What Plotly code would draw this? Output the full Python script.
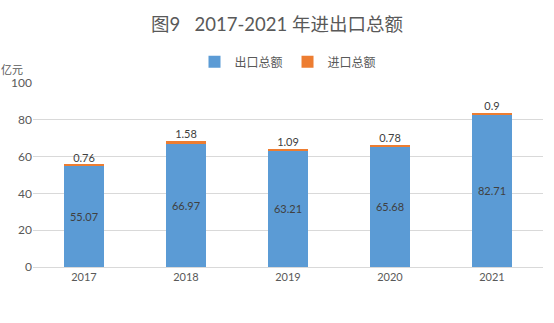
import plotly.graph_objects as go

years = ["2017", "2018", "2019", "2020", "2021"]
exports = [55.07, 66.97, 63.21, 65.68, 82.71]
imports = [0.76, 1.58, 1.09, 0.78, 0.9]

FONT = "Lato, 'Noto Sans CJK SC', sans-serif"
GREY = "#595959"

fig = go.Figure()
fig.add_trace(go.Bar(
    x=years, y=exports, name="出口总额", marker_color="#5B9BD5",
    marker_line_width=0,
    text=[f"{v:g}" for v in exports], textposition="inside",
    insidetextanchor="middle", textfont=dict(color="#404040", size=11, family=FONT),
    width=0.4,
))
fig.add_trace(go.Bar(
    x=years, y=imports, name="进口总额", marker_color="#ED7D31", width=0.4,
    marker_line_width=0,
))
fig.add_trace(go.Scatter(
    x=years, y=[e + i for e, i in zip(exports, imports)],
    mode="text", text=[f"{v:g}" for v in imports], textposition="top center",
    textfont=dict(color="#404040", size=11, family=FONT), showlegend=False,
    hoverinfo="skip",
))

fig.update_layout(
    width=554, height=323, barmode="stack",
    paper_bgcolor="white", plot_bgcolor="white",
    margin=dict(l=33, r=11, t=83, b=56),
    font=dict(family=FONT, color=GREY, size=11),
    title=dict(text="图9   2017-2021 年进出口总额", x=0.5, xanchor="center",
               y=0.925, yanchor="middle", font=dict(size=18.5, color=GREY, family=FONT)),
    legend=dict(orientation="h", x=0.5, xanchor="center", y=1.115, yanchor="middle",
                font=dict(size=12, color=GREY, family=FONT), itemwidth=30,
                traceorder="normal"),
    xaxis=dict(showgrid=False, showline=True, linecolor="#D9D9D9", ticks="",
               tickfont=dict(size=11, color=GREY)),
    yaxis=dict(range=[0, 100], dtick=20, showgrid=True, gridcolor="#D9D9D9",
               zeroline=False, showline=False, ticks="",
               tickfont=dict(size=12, color=GREY)),
    annotations=[dict(text="亿元", x=0, xref="paper", xanchor="right", xshift=-8,
                      y=100, yref="y", yshift=14, yanchor="middle", showarrow=False,
                      font=dict(size=11, color=GREY, family=FONT))],
)
fig.write_html("out.html")
